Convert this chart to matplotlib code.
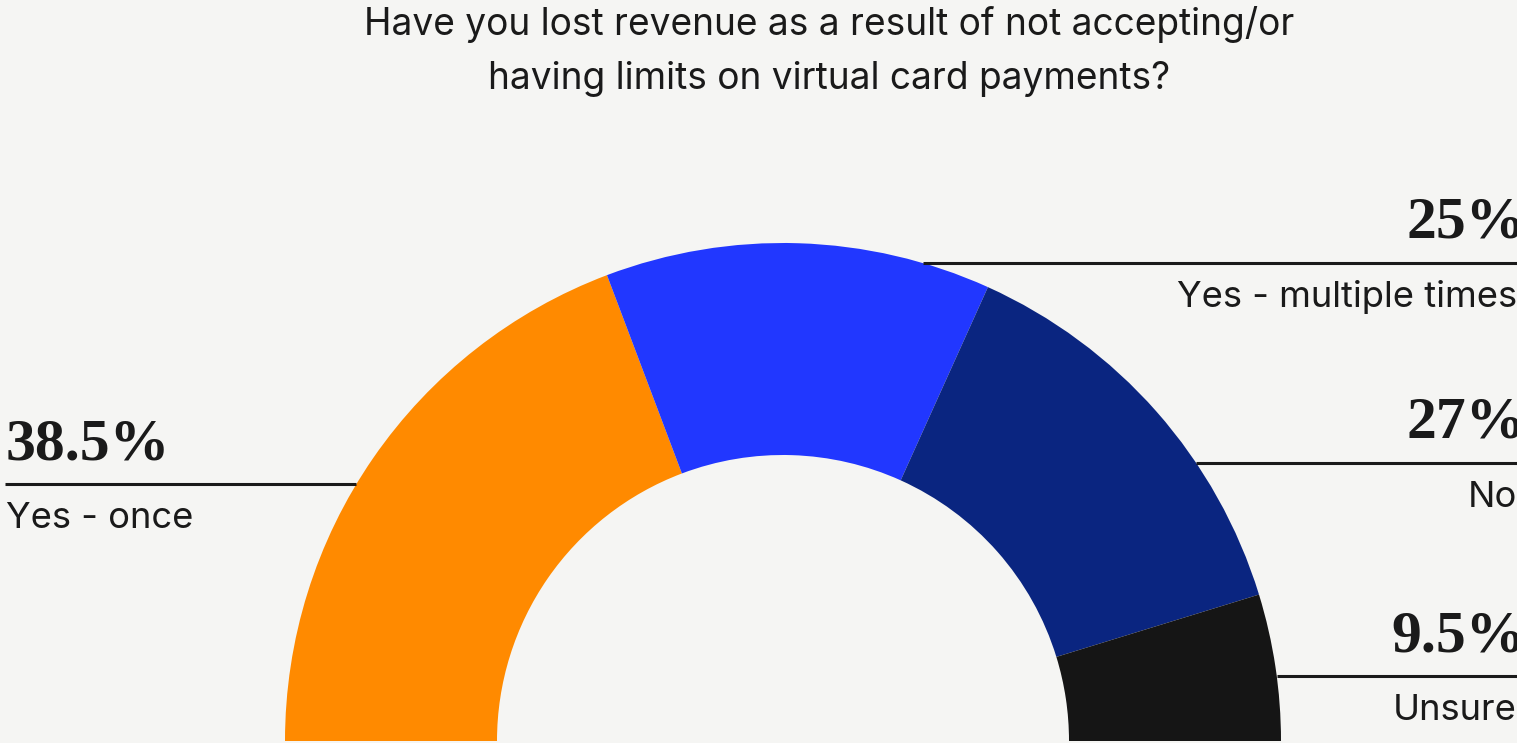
import numpy as np
import matplotlib.pyplot as plt

# Survey answers
labels = ["Yes - once", "Yes - multiple times", "No", "Unsure"]
shares = [38.5, 25, 27, 9.5]
pct_text = ["38.5%", "25%", "27%", "9.5%"]
colors = ["#FF8A00", "#2137FF", "#0A2580", "#151515"]

# where each callout line sits (pixels from top) and which side it goes to
line_y = [484, 263, 463, 676]
sides = ["left", "right", "right", "right"]

W, H = 1517, 743
bg = "#F5F5F3"
cx, cy = 783, H - 741
R, ring = 498, 212

fig = plt.figure(figsize=(W / 100, H / 100), dpi=100, facecolor=bg)
ax = fig.add_axes([0, 0, 1, 1])
ax.set_xlim(0, W)
ax.set_ylim(0, H)
ax.set_aspect("equal")
ax.axis("off")

# half donut: the second half of the pie is a blank wedge
wedges, _ = ax.pie(shares + [sum(shares)], colors=colors + [bg],
                   startangle=180, counterclock=False, radius=R, center=(cx, cy),
                   wedgeprops=dict(width=ring, linewidth=0))
wedges[-1].set_visible(False)
ax.set_xlim(0, W)
ax.set_ylim(0, H)

serif = dict(family="Liberation Serif", weight="bold", size=43, color="#1a1a1a")
sans = dict(family="Inter", size=26.2, color="#1a1a1a")
title_font = dict(family="Inter", size=26.7, color="#1a1a1a")

for lab, pt, ly, side in zip(labels, pct_text, line_y, sides):
    y = H - ly
    dx = np.sqrt(R ** 2 - (y - cy) ** 2)
    if side == "left":
        x0, x1, px, lx, ha = 5, cx - dx, 6, 6, "left"
    else:
        x0, x1, px, lx, ha = cx + dx, W, 1526, 1517, "right"
    ax.plot([x0, x1], [y, y], color="#1a1a1a", lw=2.2, solid_capstyle="butt")
    ax.text(px, y + 25, pt, ha=ha, va="baseline", **serif)
    ax.text(lx, y - 44, lab, ha=ha, va="baseline", **sans)

ax.text(829, H - 35, "Have you lost revenue as a result of not accepting/or",
        ha="center", va="baseline", **title_font)
ax.text(829, H - 89, "having limits on virtual card payments?",
        ha="center", va="baseline", **title_font)

fig.savefig("out.png", dpi=100, facecolor=bg)
